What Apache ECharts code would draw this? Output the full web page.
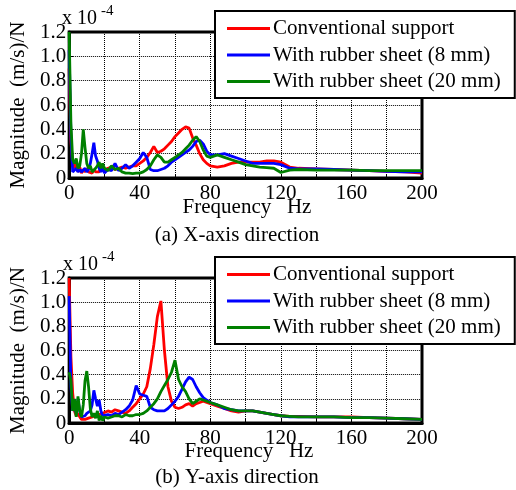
<!DOCTYPE html>
<html>
<head>
<meta charset="utf-8">
<script src="https://cdn.jsdelivr.net/npm/echarts@6/dist/echarts.min.js"></script>
<style>
  html, body { margin: 0; padding: 0; background: #fff; }
  #chart { width: 516px; height: 490px; }
</style>
</head>
<body>
<div id="chart"></div>
<script>
// frequency points (Hz), shared by all curves
var freq = [0, 1, 2, 3, 4, 5, 6, 7, 8, 9, 10, 11, 12, 13, 14, 15, 16, 17, 18, 19, 20,
  22, 24, 26, 28, 30, 32, 34, 36, 38, 40, 42, 44, 46, 48, 50, 52, 54, 56, 58, 60,
  62, 64, 66, 68, 70, 72, 74, 76, 78, 80,
  84, 88, 92, 96, 100, 104, 108, 112, 116, 120,
  125, 130, 140, 150, 160, 170, 180, 190, 200];

var names = ['Conventional support', 'With rubber sheet (8 mm)', 'With rubber sheet (20 mm)'];
var colors = ['#ff0000', '#0000ff', '#008000'];

// (a) X-axis direction, magnitude x 1e-4
var xConv = [0.9, 0.3, 0.12, 0.08, 0.15, 0.05, 0.09, 0.04, 0.07, 0.05, 0.08, 0.05, 0.06, 0.04, 0.07, 0.05, 0.06, 0.05, 0.09, 0.06, 0.07,
  0.08, 0.09, 0.07, 0.08, 0.09, 0.08, 0.09, 0.1, 0.1, 0.12, 0.14, 0.17, 0.21, 0.26, 0.21, 0.22, 0.24, 0.27, 0.3, 0.34,
  0.37, 0.4, 0.42, 0.41, 0.33, 0.27, 0.2, 0.15, 0.12, 0.1,
  0.09, 0.1, 0.12, 0.13, 0.13, 0.13, 0.13, 0.14, 0.14, 0.13,
  0.09, 0.08, 0.075, 0.07, 0.065, 0.06, 0.055, 0.05, 0.04];
var xR8 = [1.05, 0.35, 0.05, 0.04, 0.08, 0.05, 0.07, 0.05, 0.06, 0.08, 0.05, 0.07, 0.12, 0.2, 0.29, 0.18, 0.14, 0.08, 0.05, 0.09, 0.04,
  0.07, 0.06, 0.12, 0.06, 0.08, 0.11, 0.08, 0.1, 0.13, 0.16, 0.21, 0.17, 0.07, 0.06, 0.06, 0.07, 0.08, 0.1, 0.13, 0.15,
  0.17, 0.19, 0.21, 0.23, 0.26, 0.3, 0.31, 0.28, 0.22, 0.19,
  0.19, 0.2, 0.18, 0.16, 0.14, 0.12, 0.12, 0.12, 0.12, 0.11,
  0.08, 0.075, 0.075, 0.07, 0.065, 0.06, 0.055, 0.05, 0.05];
var xR20 = [1.2, 0.45, 0.15, 0.12, 0.16, 0.08, 0.1, 0.2, 0.4, 0.25, 0.12, 0.08, 0.1, 0.05, 0.06, 0.08, 0.1, 0.13, 0.08, 0.12, 0.08,
  0.06, 0.1, 0.07, 0.08, 0.05, 0.04, 0.04, 0.035, 0.04, 0.04, 0.05, 0.07, 0.1, 0.15, 0.19, 0.17, 0.13, 0.13, 0.15, 0.17,
  0.19, 0.21, 0.24, 0.27, 0.31, 0.34, 0.3, 0.23, 0.18, 0.17,
  0.19, 0.17, 0.15, 0.13, 0.11, 0.1, 0.09, 0.085, 0.08, 0.045,
  0.065, 0.07, 0.065, 0.065, 0.065, 0.06, 0.06, 0.06, 0.06];

// (b) Y-axis direction
var yConv = [1.2, 0.55, 0.25, 0.1, 0.06, 0.08, 0.05, 0.03, 0.02, 0.03, 0.04, 0.04, 0.05, 0.05, 0.06, 0.06, 0.06, 0.07, 0.07, 0.08, 0.08,
  0.1, 0.09, 0.11, 0.1, 0.09, 0.08, 0.1, 0.13, 0.16, 0.2, 0.24, 0.3, 0.45, 0.65, 0.88, 1.01, 0.6, 0.3, 0.18, 0.13,
  0.12, 0.13, 0.15, 0.16, 0.14, 0.16, 0.17, 0.18, 0.17, 0.16,
  0.14, 0.12, 0.1, 0.09, 0.1, 0.1, 0.09, 0.08, 0.07, 0.06,
  0.055, 0.055, 0.05, 0.05, 0.05, 0.045, 0.04, 0.035, 0.03];
var yR8 = [1.05, 0.3, 0.1, 0.15, 0.08, 0.2, 0.1, 0.05, 0.04, 0.06, 0.08, 0.07, 0.1, 0.15, 0.27, 0.2, 0.14, 0.19, 0.1, 0.06, 0.05,
  0.07, 0.06, 0.08, 0.07, 0.09, 0.11, 0.14, 0.19, 0.31, 0.24, 0.23, 0.22, 0.13, 0.11, 0.1, 0.1, 0.1, 0.12, 0.15, 0.18,
  0.22, 0.28, 0.34, 0.38, 0.36, 0.3, 0.25, 0.21, 0.19, 0.17,
  0.15, 0.12, 0.11, 0.1, 0.1, 0.1, 0.09, 0.08, 0.07, 0.06,
  0.05, 0.05, 0.05, 0.05, 0.045, 0.045, 0.04, 0.035, 0.03];
var yR20 = [0.42, 0.35, 0.1, 0.2, 0.05, 0.22, 0.1, 0.05, 0.15, 0.35, 0.43, 0.3, 0.12, 0.05, 0.08, 0.04, 0.1, 0.02, 0.06, 0.02, 0.05,
  0.04, 0.05, 0.06, 0.06, 0.05, 0.07, 0.06, 0.06, 0.07, 0.07, 0.08, 0.1, 0.13, 0.16, 0.2, 0.26, 0.31, 0.36, 0.42, 0.52,
  0.36, 0.3, 0.26, 0.2, 0.16, 0.18, 0.2, 0.19, 0.18, 0.17,
  0.15, 0.13, 0.11, 0.1, 0.1, 0.1, 0.09, 0.08, 0.07, 0.06,
  0.055, 0.05, 0.05, 0.05, 0.045, 0.045, 0.04, 0.035, 0.03];

var font = 'Liberation Serif, Times New Roman, serif';

function pairs(vals) {
  return freq.map(function (f, i) { return [f, vals[i]]; });
}

function makeSeries(idx, lists) {
  return lists.map(function (vals, i) {
    return {
      name: names[i],
      type: 'line',
      xAxisIndex: idx,
      yAxisIndex: idx,
      symbol: 'none',
      color: colors[i],
      lineStyle: { width: 2.8, color: colors[i] },
      data: pairs(vals)
    };
  });
}

function xAx(idx) {
  return {
    type: 'value', gridIndex: idx, min: 0, max: 200, interval: 20,
    axisLine: { show: true, lineStyle: { color: '#000', width: 3 } },
    axisTick: { inside: true, length: 4, lineStyle: { color: '#000' } },
    axisLabel: {
      color: '#000', fontFamily: font, fontSize: 21, margin: 5,
      formatter: function (v) { return v % 40 === 0 ? String(v) : ''; }
    },
    splitLine: { show: true, lineStyle: { color: '#000', type: 'dotted', width: 1 } }
  };
}

function yAx(idx) {
  return {
    type: 'value', gridIndex: idx, min: 0, max: 1.2, interval: 0.2,
    name: 'Magnitude  (m/s)/N', nameLocation: 'middle', nameGap: 34,
    nameTextStyle: { color: '#000', fontFamily: font, fontSize: 21 },
    axisLine: { show: true, lineStyle: { color: '#000', width: 3 } },
    axisTick: { inside: true, length: 4, lineStyle: { color: '#000' } },
    axisLabel: {
      color: '#000', fontFamily: font, fontSize: 21, margin: 3,
      formatter: function (v) { return v === 0 ? '0' : v.toFixed(1); }
    },
    splitLine: { show: true, lineStyle: { color: '#000', type: 'dotted', width: 1 } }
  };
}

function legendAt(left, top) {
  return {
    data: names, left: left, top: top, orient: 'vertical',
    icon: 'rect', itemWidth: 43, itemHeight: 3,
    padding: [7, 14, 6, 12], itemGap: 5.5,
    backgroundColor: '#fff', borderColor: '#000', borderWidth: 2,
    textStyle: { color: '#000', fontFamily: font, fontSize: 21, padding: [0, 0, 0, -2] },
    selectedMode: false, z: 10
  };
}

function txt(x, y, s, size) {
  return {
    type: 'text', left: x, top: y, z: 20,
    style: { text: s, fill: '#000', font: size + 'px ' + font }
  };
}

function ctxt(x, y, s) {
  return {
    type: 'text', x: x, y: y, z: 20,
    style: { text: s, fill: '#000', font: '21px ' + font, align: 'center' }
  };
}

var chart = echarts.init(document.getElementById('chart'));
chart.setOption({
  animation: false,
  backgroundColor: '#fff',
  grid: [
    { left: 62, top: 32, width: 360, height: 146, show: true, borderColor: '#000', borderWidth: 3 },
    { left: 63, top: 278, width: 359, height: 145, show: true, borderColor: '#000', borderWidth: 3 }
  ],
  xAxis: [xAx(0), xAx(1)],
  yAxis: [yAx(0), yAx(1)],
  legend: [legendAt(215, 11), legendAt(215, 257)],
  graphic: [
    txt(62, 9, 'x 10', 20), txt(101, 4, '-4', 15),
    txt(63, 255, 'x 10', 20), txt(102, 250, '-4', 15),
    ctxt(247, 197, 'Frequency   Hz'),
    ctxt(237, 225, '(a) X-axis direction'),
    ctxt(249, 441, 'Frequency   Hz'),
    ctxt(237, 467, '(b) Y-axis direction')
  ],
  series: makeSeries(0, [xConv, xR8, xR20]).concat(makeSeries(1, [yConv, yR8, yR20]))
});
</script>
</body>
</html>
